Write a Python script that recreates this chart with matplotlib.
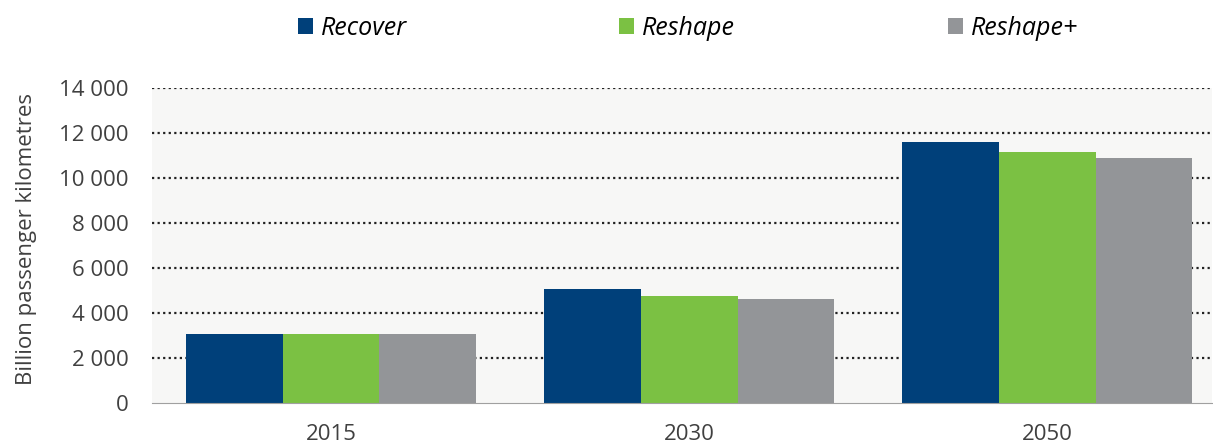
import matplotlib.pyplot as plt
import numpy as np

plt.rcParams['font.family'] = ['Open Sans', 'DejaVu Sans']

years = ['2015', '2030', '2050']
recover = [3070, 5070, 11610]
reshape = [3070, 4760, 11140]
reshape_plus = [3070, 4640, 10880]

series = ['Recover', 'Reshape', 'Reshape+']
colors = ['#00407a', '#7bc143', '#939598']

fig = plt.figure(figsize=(12.13, 4.46), dpi=100)
ax = fig.add_axes([0.1253, 0.096, 0.874, 0.707])
ax.set_facecolor('#f7f7f6')

x = np.arange(len(years))
w = 0.27
for i, (vals, name, c) in enumerate(zip([recover, reshape, reshape_plus], series, colors)):
    ax.bar(x + (i - 1) * w, vals, w, color=c, label=name, zorder=3)

ax.set_xlim(-0.5, 2.46)
ax.set_ylim(0, 14000)
ax.set_yticks(np.arange(0, 14001, 2000))
ax.set_yticklabels(['{:,}'.format(v).replace(',', ' ') for v in range(0, 14001, 2000)])
ax.set_xticks(x)
ax.set_xticklabels(years)
ax.tick_params(axis='both', length=0, labelsize=16, colors='#404040')
ax.tick_params(axis='y', pad=17)
ax.tick_params(axis='x', pad=15)

for v in range(2000, 14001, 2000):
    ax.axhline(v, color='#222222', linestyle=(0, (1, 1.5)), linewidth=1.6, zorder=1)

for s in ['top', 'right', 'left']:
    ax.spines[s].set_visible(False)
ax.spines['bottom'].set_color('#a0a0a0')
ax.spines['bottom'].set_zorder(4)

ax.set_ylabel('Billion passenger kilometres', fontsize=16, color='#404040', labelpad=17)
ax.yaxis.set_label_coords(-0.108, 0.52)

leg = fig.legend(loc='center', bbox_to_anchor=(0.567, 0.937), ncol=3, frameon=False,
                 prop={'style': 'italic', 'size': 18},
                 columnspacing=8.5, handlelength=0.6, handleheight=0.6, handletextpad=0.32)

fig.savefig('out.png', dpi=100, facecolor='white')
